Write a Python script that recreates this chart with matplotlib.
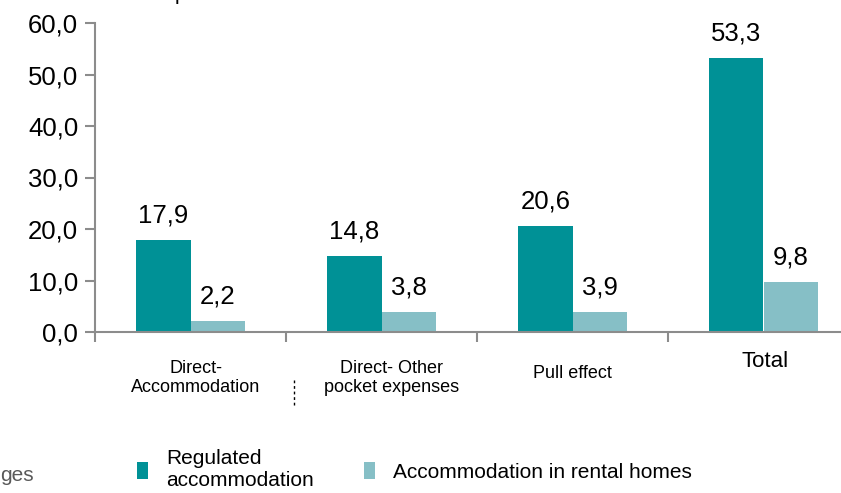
import matplotlib.pyplot as plt
from matplotlib.lines import Line2D

plt.rcParams['font.family'] = ['Liberation Sans', 'DejaVu Sans']

categories = ["Direct-\nAccommodation", "Direct- Other\npocket expenses", "Pull effect", "Total"]
regulated = [17.9, 14.8, 20.6, 53.3]
rental = [2.2, 3.8, 3.9, 9.8]
series_names = ["Regulated\naccommodation", "Accommodation in rental homes"]
yticks = [0, 10, 20, 30, 40, 50, 60]

teal = "#009196"
light = "#86bfc6"
grey = "#8c8c8c"

W, H = 841, 493
fig = plt.figure(figsize=(W / 100, H / 100), dpi=100)
# axes runs a bit past the right edge, like the cropped original
ax = fig.add_axes([95 / W, (H - 332) / H, 764 / W, 309 / H])

w = 0.283
x = list(range(len(categories)))
b1 = ax.bar([i - w / 2 for i in x], regulated, width=w, color=teal, label=series_names[0])
b2 = ax.bar([i + w / 2 for i in x], rental, width=w, color=light, label=series_names[1])

def fmt(v):
    return f"{v:.1f}".replace(".", ",")

ax.bar_label(b1, labels=[fmt(v) for v in regulated], padding=9, fontsize=18.5)
ax.bar_label(b2, labels=[fmt(v) for v in rental], padding=9, fontsize=18.5)

ax.set_xlim(-0.5, 3.5)
ax.set_ylim(0, 60)
ax.set_yticks(yticks)
ax.set_yticklabels([fmt(v) for v in yticks], fontsize=18.5)
ax.set_xticks([-0.5, 0.5, 1.5, 2.5, 3.5])
ax.set_xticklabels([])
ax.tick_params(axis="both", color=grey, width=1.5, length=7, direction="out")
ax.tick_params(axis="y", pad=5)
for s in ["top", "right"]:
    ax.spines[s].set_visible(False)
for s in ["left", "bottom"]:
    ax.spines[s].set_color(grey)
    ax.spines[s].set_linewidth(1.5)

# category labels, placed one by one like the source
label_size = [13, 13, 13, 16]
label_off = [(4, -20), (7, -20), (0, -24), (1, -14)]
for i, lab in enumerate(categories):
    ax.annotate(lab, xy=(i, 0), xycoords=("data", "axes fraction"),
                xytext=label_off[i], textcoords="offset points",
                ha="center", va="top", fontsize=label_size[i],
                linespacing=1.15)

fig.legend(handles=[b1, b2], loc="center left", bbox_to_anchor=(137 / W, 1 - 470 / H),
           ncol=2, frameon=False, fontsize=15, handlelength=0.55, handleheight=0.9,
           handletextpad=0.85, columnspacing=2.4, borderpad=0, borderaxespad=0)

# cropped bits of surrounding slide
fig.text(0, 1 - 481 / H, "ges", fontsize=15, color="#595959", ha="left", va="baseline")
fig.text(175 / W, 1.0, "p", fontsize=15, color="black", ha="left", va="baseline")
fig.add_artist(Line2D([294 / W, 294 / W], [1 - 380 / H, 1 - 405 / H],
                      color="black", lw=1, linestyle=(0, (2, 2))))

fig.savefig("out.png", dpi=100)
